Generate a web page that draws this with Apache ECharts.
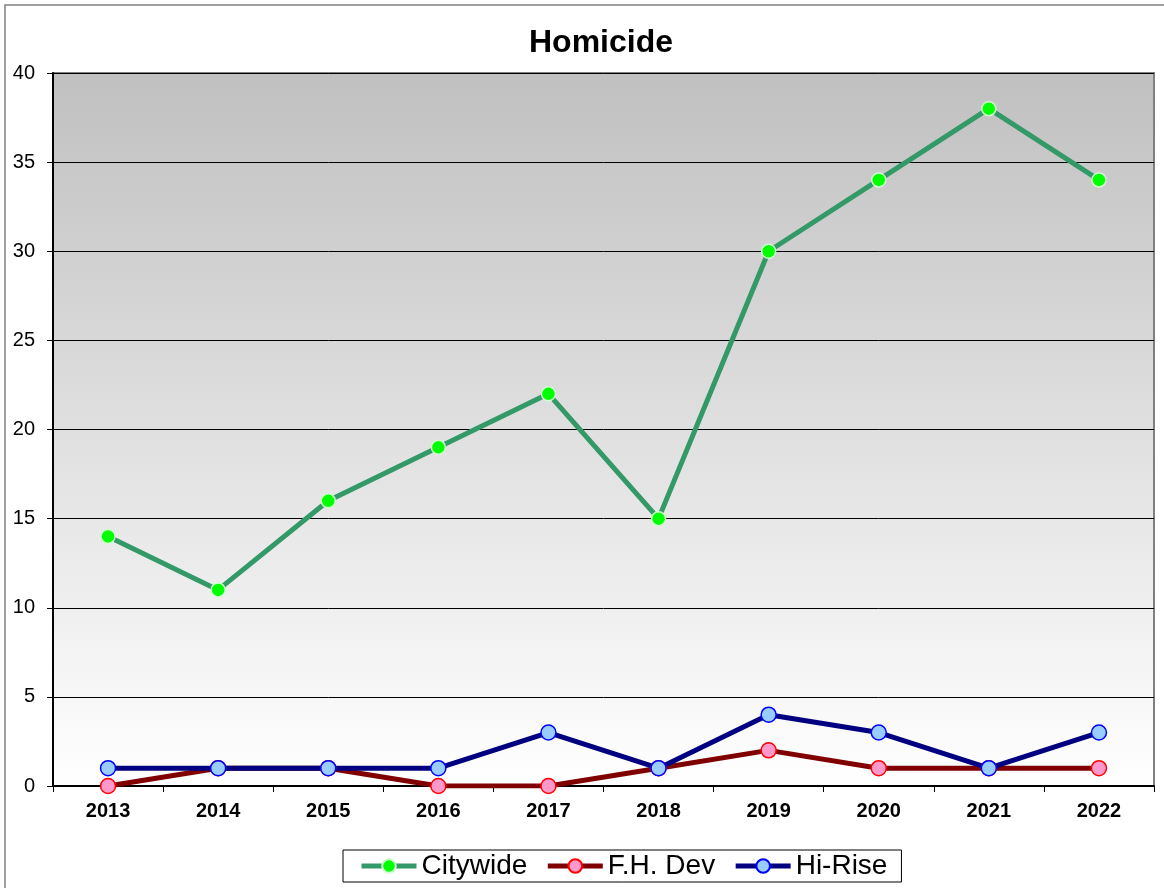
<!DOCTYPE html>
<html>
<head>
<meta charset="utf-8">
<script src="https://cdn.jsdelivr.net/npm/echarts@6/dist/echarts.min.js"></script>
<style>
  html, body { margin: 0; padding: 0; background: #fff; }
  #chart { width: 1164px; height: 888px; }
</style>
</head>
<body>
<div id="chart"></div>
<script>
const years = ['2013', '2014', '2015', '2016', '2017', '2018', '2019', '2020', '2021', '2022']
const citywide = [14, 11, 16, 19, 22, 15, 30, 34, 38, 34]
const fhDev = [0, 1, 1, 0, 0, 1, 2, 1, 1, 1]
const hiRise = [1, 1, 1, 1, 3, 1, 4, 3, 1, 3]

const chart = echarts.init(document.getElementById('chart'))

function lineSeries(name, data, lineColor, fill, border, size) {
  return {
    name,
    type: 'line',
    data,
    symbol: 'circle',
    symbolSize: size,
    lineStyle: { color: lineColor, width: 5 },
    itemStyle: { color: fill, borderColor: border, borderWidth: 1.5 },
    emphasis: { disabled: true },
    animation: false
  }
}

chart.setOption({
  animation: false,
  textStyle: { fontFamily: 'Liberation Sans, Arial, sans-serif' },
  title: {
    text: 'Homicide',
    left: 524,
    top: 22,
    textStyle: { fontSize: 32, fontWeight: 'bold', color: '#000' }
  },
  graphic: [{
    type: 'rect',
    shape: { x: 5, y: 5, width: 1200, height: 900 },
    style: { fill: 'none', stroke: '#808080', lineWidth: 1.5 },
    silent: true,
    z: -10
  }],
  legend: {
    bottom: 6,
    left: 343,
    itemGap: 18,
    itemWidth: 55,
    itemHeight: 17,
    padding: [2, 14, 2, 16],
    borderColor: '#000',
    borderWidth: 1,
    lineStyle: { width: 5 },
    textStyle: { fontSize: 28, color: '#000' },
    data: ['Citywide', 'F.H. Dev', 'Hi-Rise']
  },
  grid: {
    left: 53,
    right: 10,
    top: 73,
    bottom: 102,
    show: true,
    borderColor: '#808080',
    borderWidth: 2,
    backgroundColor: new echarts.graphic.LinearGradient(0, 0, 0, 1, [
      { offset: 0, color: '#c0c0c0' },
      { offset: 1, color: '#ffffff' }
    ])
  },
  xAxis: {
    type: 'category',
    data: years,
    boundaryGap: true,
    axisLine: { lineStyle: { color: '#000', width: 2 } },
    axisTick: { show: true, length: 6, lineStyle: { color: '#000' } },
    axisLabel: { color: '#000', fontSize: 20, fontWeight: 'bold', margin: 15 },
    splitLine: { show: false }
  },
  yAxis: {
    type: 'value',
    min: 0,
    max: 40,
    interval: 5,
    axisLine: { show: true, lineStyle: { color: '#000', width: 2 } },
    axisTick: { show: true, length: 6, lineStyle: { color: '#000' } },
    axisLabel: { color: '#000', fontSize: 20, margin: 18 },
    splitLine: { lineStyle: { color: '#000', width: 1 } }
  },
  series: [
    lineSeries('Citywide', citywide, '#339966', '#00ff00', '#ccffcc', 14),
    lineSeries('F.H. Dev', fhDev, '#800000', '#ff99cc', '#ff0000', 15),
    lineSeries('Hi-Rise', hiRise, '#000080', '#99ccff', '#0000ff', 15)
  ]
})
</script>
</body>
</html>
